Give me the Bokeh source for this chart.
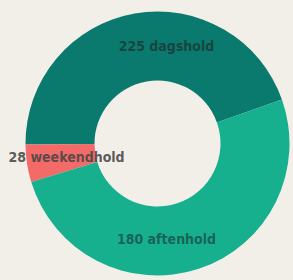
import numpy as np
from bokeh.plotting import figure
from bokeh.models import Range1d, ColumnDataSource
from bokeh.core.properties import value
from bokeh.embed import file_html
from bokeh.resources import INLINE

# Data
categories = ["dagshold", "weekendhold", "aftenhold"]
counts = [225, 28, 180]
# slice shares as drawn in the reference picture
slice_share = [0.447, 0.046, 0.507]
colors = ["#0a7a6e", "#f26b68", "#17b08f"]
start_deg = 19.5

W, H = 293, 280
p = figure(width=W, height=H, output_backend="svg", toolbar_location=None,
           x_range=Range1d(0, W), y_range=Range1d(0, H), min_border=0)
p.axis.visible = False
p.grid.visible = False
p.outline_line_color = None
p.background_fill_color = "#f2eee8"
p.border_fill_color = "#f2eee8"

cx, cy = 157, 137
cum = np.cumsum([0] + slice_share)
starts = np.deg2rad(start_deg + 360 * cum[:-1])
ends = np.deg2rad(start_deg + 360 * cum[1:])
src = ColumnDataSource(dict(x=[cx] * 3, y=[cy] * 3, start=starts, end=ends, color=colors))
p.annular_wedge(x="x", y="y", inner_radius=63, outer_radius=132, start_angle="start",
                end_angle="end", fill_color="color", line_color=None, source=src)

labels = [f"{c} {n}" for c, n in zip(counts, categories)]
font = value("DejaVu Sans Condensed")
p.text(x=[166], y=[235], text=[labels[0]], text_font=font, text_font_size="14px",
       text_font_style="bold", text_align="center", text_baseline="middle",
       text_color="#1a3a36", text_alpha=0.85)
p.text(x=[8], y=[124], text=[labels[1]], text_font=font, text_font_size="14px",
       text_font_style="bold", text_align="left", text_baseline="middle",
       text_color="#4a4646", text_alpha=0.9)
p.text(x=[166], y=[42], text=[labels[2]], text_font=font, text_font_size="14px",
       text_font_style="bold", text_align="center", text_baseline="middle",
       text_color="#175a50", text_alpha=0.9)

html = file_html(p, INLINE)
html = html.replace("</head>", "<style>html,body{margin:0;padding:0;overflow:hidden;background:#f2eee8;}</style></head>", 1)
open("out.html", "w").write(html)
